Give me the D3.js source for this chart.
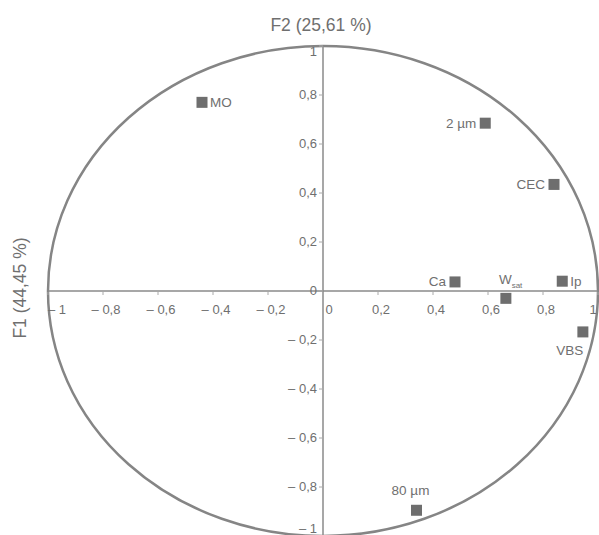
<!DOCTYPE html>
<html>
<head>
<meta charset="utf-8">
<script src="https://cdn.jsdelivr.net/npm/d3@7"></script>
<style>
body{margin:0;background:#fff}
text{font-family:"Liberation Sans",Arial,sans-serif;fill:#6f6f6f}
</style>
</head>
<body>
<div id="chart"></div>
<script>
// variables on the correlation circle
const names = ["MO", "2 µm", "CEC", "Ca", "W", "Ip", "VBS", "80 µm"];
const f1 = [-0.44, 0.59, 0.84, 0.48, 0.665, 0.87, 0.945, 0.34];
const f2 = [0.77, 0.685, 0.435, 0.037, -0.03, 0.04, -0.167, -0.895];
const xTicks = [-1, -0.8, -0.6, -0.4, -0.2, 0, 0.2, 0.4, 0.6, 0.8, 1];
const yTicks = [-1, -0.8, -0.6, -0.4, -0.2, 0, 0.2, 0.4, 0.6, 0.8, 1];
const xTitle = "F2 (25,61 %)";
const yTitle = "F1 (44,45 %)";

const width = 599, height = 535;

const x = d3.scaleLinear().domain([-1, 1]).range([48, 598]);
const y = d3.scaleLinear().domain([-1, 1]).range([536, 46]);

const svg = d3.select("#chart").append("svg")
	.attr("width", width)
	.attr("height", height);

function fmt(v){
	let s = d3.format("")(+v.toFixed(1)).replace(".", ",");
	if(v < 0) s = "\u2013 " + s.slice(1);
	return s;
}

// circle
svg.append("ellipse")
	.attr("cx", x(0)).attr("cy", y(0))
	.attr("rx", x(1) - x(0)).attr("ry", y(0) - y(1))
	.attr("fill", "none")
	.attr("stroke", "#858585")
	.attr("stroke-width", 2.5);

// axes lines
svg.append("line")
	.attr("x1", x(-1)).attr("x2", x(1))
	.attr("y1", y(0)).attr("y2", y(0))
	.attr("stroke", "#8a8a8a").attr("stroke-width", 1.5);
svg.append("line")
	.attr("x1", x(0)).attr("x2", x(0))
	.attr("y1", y(1)).attr("y2", y(-1))
	.attr("stroke", "#8a8a8a").attr("stroke-width", 1.5);

// x ticks
const xt = svg.append("g").selectAll("g").data(xTicks).join("g")
	.attr("transform", d => "translate(" + x(d) + "," + y(0) + ")");
xt.append("line").attr("y1", 1).attr("y2", 4)
	.attr("stroke", "#aaa").attr("stroke-width", 1);
xt.append("text")
	.attr("x", d => d == -1 ? 9 : (d == 1 ? -5 : (d == 0 ? 6 : 3)))
	.attr("y", 23)
	.attr("text-anchor", "middle")
	.attr("font-size", 13)
	.text(d => fmt(d));

// y ticks
const yt = svg.append("g").selectAll("g").data(yTicks).join("g")
	.attr("transform", d => "translate(" + x(0) + "," + y(d) + ")");
yt.append("line").attr("x1", -4).attr("x2", 0)
	.attr("stroke", "#aaa").attr("stroke-width", 1);
yt.append("text")
	.attr("x", -6)
	.attr("y", d => d == 1 ? 10 : (d == -1 ? -3 : 4))
	.attr("text-anchor", "end")
	.attr("font-size", 13)
	.text(d => fmt(d));

// titles
svg.append("text")
	.attr("x", x(0) - 2).attr("y", 31)
	.attr("text-anchor", "middle")
	.attr("font-size", 17.5)
	.text(xTitle);
svg.append("text")
	.attr("transform", "translate(26," + (y(0) - 3) + ") rotate(-90)")
	.attr("text-anchor", "middle")
	.attr("font-size", 17.5)
	.text(yTitle);

// points
const pts = names.map((n, i) => ({name: n, x: f1[i], y: f2[i]}));
const sq = 11;
svg.append("g").selectAll("rect").data(pts).join("rect")
	.attr("x", d => x(d.x) - sq/2)
	.attr("y", d => y(d.y) - sq/2)
	.attr("width", sq).attr("height", sq)
	.attr("fill", "#6e6e6e");

// label placement: [dx, dy, anchor]
const place = {
	"MO": [8, 5, "start"],
	"2 µm": [-9, 5, "end"],
	"CEC": [-9, 5, "end"],
	"Ca": [-9, 4, "end"],
	"W": [-7, -14, "start"],
	"Ip": [8, 5, "start"],
	"VBS": [-13, 23, "middle"],
	"80 µm": [-6, -15, "middle"]
};
const lab = svg.append("g").selectAll("text").data(pts).join("text")
	.attr("x", d => x(d.x) + place[d.name][0])
	.attr("y", d => y(d.y) + place[d.name][1])
	.attr("text-anchor", d => place[d.name][2])
	.attr("font-size", 13.5);
lab.append("tspan").text(d => d.name);
lab.filter(d => d.name == "W").append("tspan")
	.attr("font-size", 8).attr("dy", 4).text("sat");
</script>
</body>
</html>
